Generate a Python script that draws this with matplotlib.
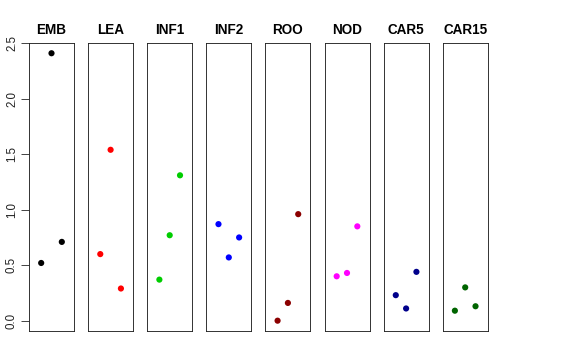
import matplotlib.pyplot as plt
import numpy as np

plt.rcParams['font.family'] = ['Liberation Sans', 'DejaVu Sans']

# one panel per tissue, three samples each
tissues = ["EMB", "LEA", "INF1", "INF2", "ROO", "NOD", "CAR5", "CAR15"]
colors = ["black", "red", "#00CD00", "blue", "#8B0000", "magenta", "#00008B", "#006400"]
samples = [1, 2, 3]
values = [
    [0.52, 2.41, 0.71],
    [0.60, 1.54, 0.29],
    [0.37, 0.77, 1.31],
    [0.87, 0.57, 0.75],
    [0.00, 0.16, 0.96],
    [0.40, 0.43, 0.85],
    [0.23, 0.11, 0.44],
    [0.09, 0.30, 0.13],
]
yticks = [0.0, 0.5, 1.0, 1.5, 2.0, 2.5]

W, H = 576, 360
fig = plt.figure(figsize=(W / 72, H / 72), dpi=72)

ylo, yhi = -0.093, 2.505
for i, (name, col, vals) in enumerate(zip(tissues, colors, values)):
    left = 29 + 59.1 * i
    ax = fig.add_axes([left / W, 1 - 331 / H, 45 / W, (331 - 42.7) / H])
    ax.scatter(samples, vals, s=38, color=col, edgecolors='none', zorder=3)
    ax.set_xlim(-0.18, 4.18)
    ax.set_ylim(ylo, yhi)
    ax.set_xticks([])
    for sp in ax.spines.values():
        sp.set_linewidth(0.9)
        sp.set_color('#222222')
    ax.set_title(name, fontsize=13.5, fontweight='bold', pad=9)
    if i == 0:
        ax.set_yticks(yticks)
        ax.set_yticklabels([f"{t:.1f}" for t in yticks], rotation=90,
                           va='center', fontsize=11.5, color='#222222')
        ax.tick_params(axis='y', length=8, width=0.9, pad=3, color='#333333')
    else:
        ax.set_yticks([])

fig.savefig("out.png", dpi=72)
